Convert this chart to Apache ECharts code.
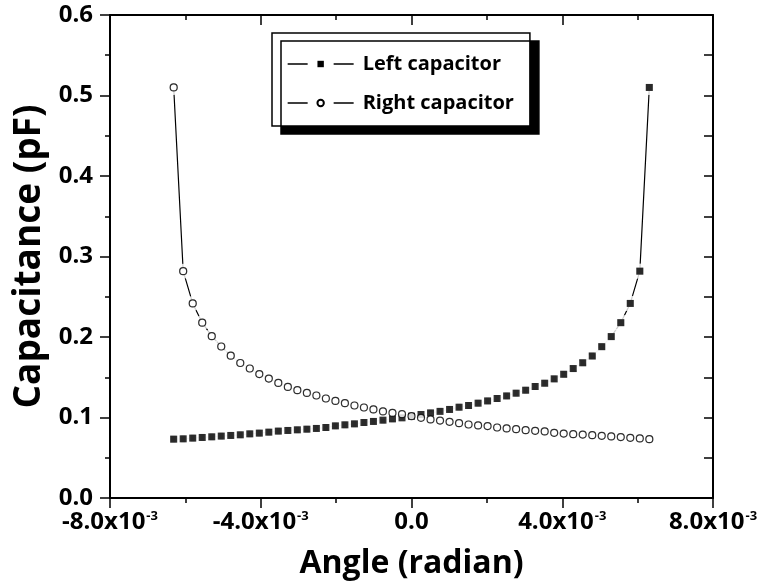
<!DOCTYPE html>
<html>
<head>
<meta charset="utf-8">
<script src="https://cdn.jsdelivr.net/npm/echarts@6/dist/echarts.min.js"></script>
<style>html,body{margin:0;padding:0;background:#fff;}#c{width:761px;height:585px;}</style>
</head>
<body>
<div id="c"></div>
<script>
const angle = [-0.006310,-0.006058,-0.005805,-0.005553,-0.005300,-0.005048,-0.004796,-0.004543,-0.004291,-0.004038,
  -0.003786,-0.003534,-0.003281,-0.003029,-0.002776,-0.002524,-0.002272,-0.002019,-0.001767,-0.001514,
  -0.001262,-0.001010,-0.000757,-0.000505,-0.000252,0,0.000252,0.000505,0.000757,0.001010,
  0.001262,0.001514,0.001767,0.002019,0.002272,0.002524,0.002776,0.003029,0.003281,0.003534,
  0.003786,0.004038,0.004291,0.004543,0.004796,0.005048,0.005300,0.005553,0.005805,0.006058,0.006310];
const leftCap = [0.0731,0.0735,0.0744,0.0752,0.0760,0.0769,0.0777,0.0785,0.0797,0.0806,
  0.0818,0.0831,0.0839,0.0847,0.0855,0.0864,0.0876,0.0896,0.0909,0.0921,
  0.0938,0.0951,0.0967,0.0983,0.0996,0.1016,0.1037,0.1057,0.1076,0.1100,
  0.1128,0.1149,0.1178,0.1206,0.1236,0.1268,0.1302,0.1339,0.1385,0.1426,
  0.1480,0.1537,0.1608,0.1680,0.1764,0.1880,0.2005,0.2178,0.2417,0.2818,0.5100];
const rightCap = [0.5100,0.2818,0.2417,0.2178,0.2010,0.1882,0.1768,0.1677,0.1609,0.1539,
  0.1484,0.1429,0.1380,0.1339,0.1305,0.1273,0.1236,0.1206,0.1178,0.1149,
  0.1124,0.1100,0.1075,0.1057,0.1041,0.1016,0.0996,0.0976,0.0962,0.0946,
  0.0930,0.0913,0.0901,0.0893,0.0876,0.0864,0.0855,0.0843,0.0834,0.0827,
  0.0810,0.0800,0.0793,0.0788,0.0780,0.0772,0.0765,0.0757,0.0748,0.0740,0.0731];
const seriesNames = ['Left capacitor', 'Right capacitor'];
const xTickLabels = ['{a|-8.0x10}{s|-3}', '{a|-4.0x10}{s|-3}', '{a|0.0}', '{a|4.0x10}{s|-3}', '{a|8.0x10}{s|-3}'];
const yTickLabels = ['0.0', '0.1', '0.2', '0.3', '0.4', '0.5', '0.6'];
const xTitle = 'Angle (radian)';
const yTitle = 'Capacitance (pF)';

const FONT = "'Open Sans', 'DejaVu Sans', sans-serif";
const leftPts = angle.map((a, i) => [a, leftCap[i]]);
const rightPts = angle.map((a, i) => [a, rightCap[i]]);

const chart = echarts.init(document.getElementById('c'), null, {renderer: 'canvas'});
const axisLine = {show: true, onZero: false, lineStyle: {color: '#000', width: 2}};
const tickStyle = {color: '#000', width: 1.5};
chart.setOption({
  animation: false,
  backgroundColor: '#fff',
  grid: {left: 110, right: 48, top: 15, bottom: 86, containLabel: false},
  legend: {
    orient: 'vertical', left: 272, top: 33,
    padding: [21, 16, 13, 15],
    itemGap: 19, itemWidth: 66, itemHeight: 8,
    backgroundColor: '#fff', borderColor: '#000', borderWidth: 1.5, borderRadius: 0,
    shadowColor: '#000', shadowBlur: 0, shadowOffsetX: 9, shadowOffsetY: 8,
    textStyle: {fontFamily: FONT, fontWeight: 'bold', fontSize: 20, color: '#000', padding: [0, 0, 0, 4]},
    data: [
      {name: seriesNames[0], lineStyle: {type: [20, 26], width: 1.3, color: '#000'}},
      {name: seriesNames[1], lineStyle: {type: [20, 26], width: 1.3, color: '#000'}}
    ]
  },
  xAxis: [{
    type: 'value', position: 'bottom', min: -0.008, max: 0.008, interval: 0.004,
    axisLine: axisLine,
    axisTick: {show: true, inside: false, length: 10, lineStyle: tickStyle},
    minorTick: {show: true, splitNumber: 2, length: 5, lineStyle: tickStyle},
    splitLine: {show: false},
    axisLabel: {
      margin: 12,
      formatter: (v, i) => xTickLabels[i],
      rich: {
        a: {fontFamily: FONT, fontWeight: 'bold', fontSize: 24, color: '#000'},
        s: {fontFamily: FONT, fontWeight: 'bold', fontSize: 13, color: '#000', verticalAlign: 'top', padding: [0, 0, 10, 1]}
      }
    },
    name: xTitle, nameLocation: 'middle', nameGap: 50,
    nameTextStyle: {fontFamily: FONT, fontWeight: 'bold', fontSize: 32, color: '#000'}
  }, {
    type: 'value', position: 'top', min: -0.008, max: 0.008, interval: 0.004,
    axisLine: axisLine,
    axisTick: {show: true, inside: true, length: 10, lineStyle: tickStyle},
    minorTick: {show: true, splitNumber: 2, length: 5, lineStyle: tickStyle},
    splitLine: {show: false}, axisLabel: {show: false}
  }],
  yAxis: [{
    type: 'value', position: 'left', min: 0, max: 0.6, interval: 0.1,
    axisLine: axisLine,
    axisTick: {show: true, inside: false, length: 10, lineStyle: tickStyle},
    minorTick: {show: true, splitNumber: 2, length: 5, lineStyle: tickStyle},
    splitLine: {show: false},
    axisLabel: {margin: 17, formatter: (v, i) => yTickLabels[i], fontFamily: FONT, fontWeight: 'bold', fontSize: 24, color: '#000'},
    name: yTitle, nameLocation: 'middle', nameGap: 58,
    nameTextStyle: {fontFamily: FONT, fontWeight: 'bold', fontSize: 37, color: '#000'}
  }, {
    type: 'value', position: 'right', min: 0, max: 0.6, interval: 0.1,
    axisLine: axisLine,
    axisTick: {show: true, inside: true, length: 9, lineStyle: tickStyle},
    minorTick: {show: true, splitNumber: 2, length: 9, lineStyle: tickStyle},
    splitLine: {show: false}, axisLabel: {show: false}
  }],
  series: [
    {name: seriesNames[0], type: 'line', data: leftPts, z: 2, symbol: 'rect', symbolSize: 7,
     lineStyle: {color: '#000', width: 1.2}, itemStyle: {color: '#000'}},
    {name: seriesNames[1], type: 'line', data: rightPts, z: 2, symbol: 'circle', symbolSize: 7,
     lineStyle: {color: '#000', width: 1.2}, itemStyle: {color: '#fff', borderColor: '#000', borderWidth: 1.2}},
    {type: 'scatter', data: leftPts, z: 3, symbol: 'rect', symbolSize: 15, itemStyle: {color: '#fff'}, silent: true},
    {type: 'scatter', data: rightPts, z: 3, symbol: 'circle', symbolSize: 15, itemStyle: {color: '#fff'}, silent: true},
    {type: 'scatter', data: leftPts, z: 4, symbol: 'rect', symbolSize: 7, itemStyle: {color: '#000'}, silent: true},
    {type: 'scatter', data: rightPts, z: 4, symbol: 'circle', symbolSize: 7,
     itemStyle: {color: '#fff', borderColor: '#000', borderWidth: 1.2}, silent: true}
  ]
});
</script>
</body>
</html>
